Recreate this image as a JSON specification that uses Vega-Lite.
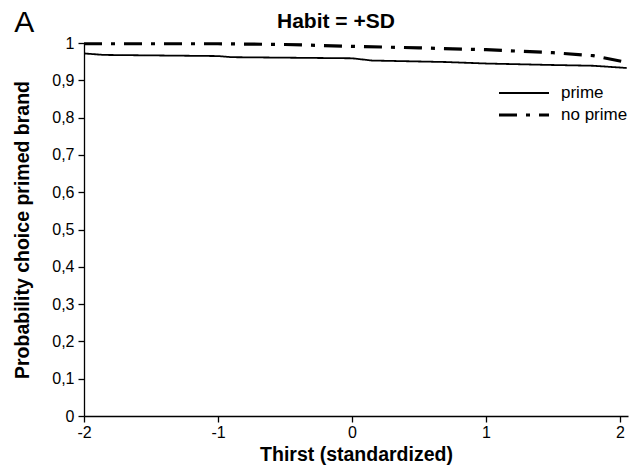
{
  "$schema": "https://vega.github.io/schema/vega-lite/v6.json",
  "width": 544,
  "height": 373,
  "autosize": "none",
  "padding": {"left": 84, "top": 43, "right": 10, "bottom": 56},
  "background": "white",
  "config": {
    "font": "Liberation Sans",
    "view": {"stroke": null},
    "axis": {"grid": false, "domainColor": "black", "tickColor": "black", "labelColor": "black", "titleColor": "black", "labelFontSize": 16, "titleFontSize": 19.5, "titleFontWeight": "bold", "tickSize": 6, "domainWidth": 1.3, "tickWidth": 1.3, "labelOverlap": false, "labelFlush": false}
  },
  "layer": [
    {
      "data": {"values": [
        {"x": -2.0, "y": 0.972, "g": "prime"},
        {"x": -1.85, "y": 0.968, "g": "prime"},
        {"x": -1.0, "y": 0.965, "g": "prime"},
        {"x": -0.9, "y": 0.962, "g": "prime"},
        {"x": 0.0, "y": 0.959, "g": "prime"},
        {"x": 0.15, "y": 0.953, "g": "prime"},
        {"x": 0.7, "y": 0.949, "g": "prime"},
        {"x": 1.0, "y": 0.945, "g": "prime"},
        {"x": 1.5, "y": 0.941, "g": "prime"},
        {"x": 1.8, "y": 0.939, "g": "prime"},
        {"x": 2.05, "y": 0.933, "g": "prime"},
        {"x": -2.0, "y": 0.998, "g": "no prime"},
        {"x": -1.0, "y": 0.998, "g": "no prime"},
        {"x": -0.5, "y": 0.996, "g": "no prime"},
        {"x": 0.0, "y": 0.991, "g": "no prime"},
        {"x": 0.5, "y": 0.987, "g": "no prime"},
        {"x": 1.0, "y": 0.982, "g": "no prime"},
        {"x": 1.5, "y": 0.974, "g": "no prime"},
        {"x": 1.8, "y": 0.966, "g": "no prime"},
        {"x": 2.05, "y": 0.948, "g": "no prime"}
      ]},
      "mark": {"type": "line", "color": "black", "interpolate": "linear"},
      "encoding": {
        "x": {"field": "x", "type": "quantitative", "scale": {"domain": [-2, 2.06], "nice": false, "zero": false}, "axis": {"values": [-2, -1, 0, 1, 2], "title": "Thirst (standardized)", "labelExpr": "'' + datum.value", "titlePadding": 5, "labelPadding": 2}},
        "y": {"field": "y", "type": "quantitative", "scale": {"domain": [0, 1], "nice": false}, "axis": {"values": [0, 0.1, 0.2, 0.3, 0.4, 0.5, 0.6, 0.7, 0.8, 0.9, 1], "title": "Probability choice primed brand", "labelExpr": "datum.value == 0 ? '0' : datum.value == 1 ? '1' : replace(format(datum.value, '.1f'), '.', ',')", "titlePadding": 19, "labelPadding": 4}},
        "strokeDash": {"field": "g", "type": "nominal", "scale": {"domain": ["prime", "no prime"], "range": [[1, 0], [18, 9, 4, 9]]}, "legend": {"title": null, "orient": "none", "legendX": 413, "legendY": 42, "labelFontSize": 17, "labelColor": "black", "symbolType": "stroke", "symbolSize": 2500, "symbolStrokeColor": "black", "clipHeight": 16, "rowPadding": 5, "labelOffset": 10}},
        "strokeWidth": {"field": "g", "type": "nominal", "scale": {"domain": ["prime", "no prime"], "range": [1.8, 3.2]}, "legend": null},
        "order": {"field": "x"}
      }
    },
    {
      "data": {"values": [{"label": "A"}]},
      "mark": {"type": "text", "fontSize": 30, "align": "left", "baseline": "alphabetic", "color": "black", "clip": false},
      "encoding": {
        "text": {"field": "label"},
        "x": {"datum": -2.52, "type": "quantitative", "scale": {"domain": [-2, 2.06], "nice": false, "zero": false}, "axis": {"values": [-2, -1, 0, 1, 2], "title": "Thirst (standardized)", "labelExpr": "'' + datum.value", "titlePadding": 5, "labelPadding": 2}},
        "y": {"datum": 1.0295, "type": "quantitative", "scale": {"domain": [0, 1], "nice": false}, "axis": {"values": [0, 0.1, 0.2, 0.3, 0.4, 0.5, 0.6, 0.7, 0.8, 0.9, 1], "title": "Probability choice primed brand", "labelExpr": "datum.value == 0 ? '0' : datum.value == 1 ? '1' : replace(format(datum.value, '.1f'), '.', ',')", "titlePadding": 19, "labelPadding": 4}}
      }
    },
    {
      "data": {"values": [{"label": "Habit = +SD"}]},
      "mark": {"type": "text", "fontSize": 21, "fontWeight": "bold", "align": "center", "baseline": "alphabetic", "color": "black", "clip": false},
      "encoding": {
        "text": {"field": "label"},
        "x": {"datum": -0.12, "type": "quantitative", "scale": {"domain": [-2, 2.06], "nice": false, "zero": false}, "axis": {"values": [-2, -1, 0, 1, 2], "title": "Thirst (standardized)", "labelExpr": "'' + datum.value", "titlePadding": 5, "labelPadding": 2}},
        "y": {"datum": 1.04, "type": "quantitative", "scale": {"domain": [0, 1], "nice": false}, "axis": {"values": [0, 0.1, 0.2, 0.3, 0.4, 0.5, 0.6, 0.7, 0.8, 0.9, 1], "title": "Probability choice primed brand", "labelExpr": "datum.value == 0 ? '0' : datum.value == 1 ? '1' : replace(format(datum.value, '.1f'), '.', ',')", "titlePadding": 19, "labelPadding": 4}}
      }
    }
  ]
}
